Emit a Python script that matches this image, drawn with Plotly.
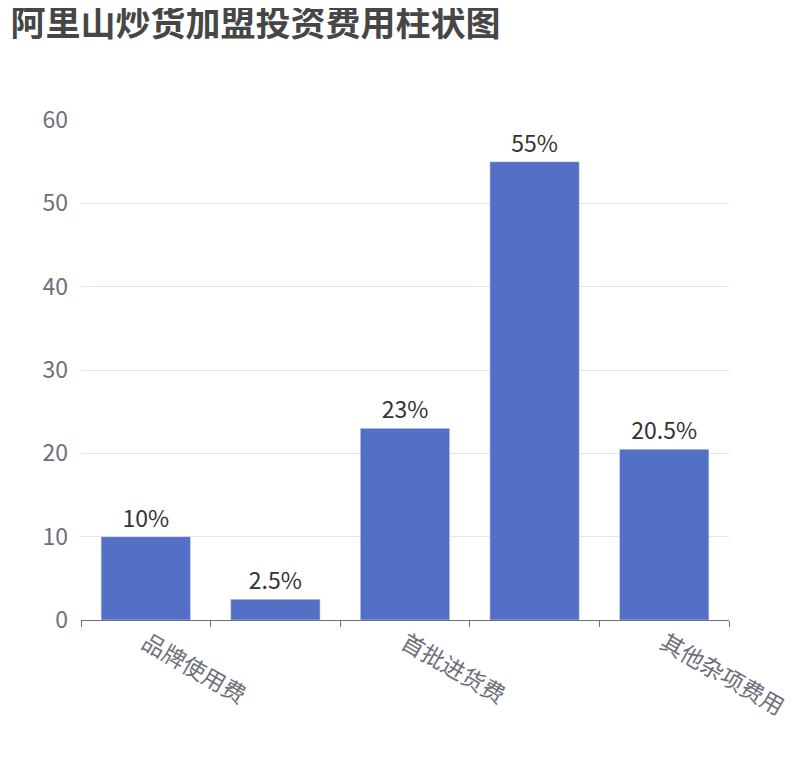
import plotly.graph_objects as go

categories = ["品牌使用费", "店面装修费", "首批进货费", "店铺租金", "其他杂项费用"]
values = [10, 2.5, 23, 55, 20.5]
labels = ["10%", "2.5%", "23%", "55%", "20.5%"]
shown = ["品牌使用费", "", "首批进货费", "", "其他杂项费用"]

font = "Noto Sans CJK SC"

fig = go.Figure(go.Bar(
    x=categories, y=values, text=labels, textposition="outside",
    textfont=dict(size=23, color="#333333", family=font),
    marker=dict(color="#5470c6"), cliponaxis=False,
))

fig.update_layout(
    width=810, height=760,
    margin=dict(l=73, r=89, t=112, b=148),
    paper_bgcolor="white", plot_bgcolor="white",
    bargap=0.31, showlegend=False,
    title=dict(text="<b>阿里山炒货加盟投资费用柱状图</b>", x=0.003, xanchor="left",
               y=0.995, yanchor="top",
               font=dict(size=35, color="#464646", family=font)),
    xaxis=dict(tickmode="array", tickvals=categories, ticktext=shown,
               tickson="boundaries", ticks="outside", ticklen=6,
               tickcolor="#6e7079", showline=True, linecolor="#6e7079",
               tickfont=dict(size=23, color="#6e7079", family=font)),
    yaxis=dict(range=[0, 60], dtick=10, gridcolor="#e0e6f1", zeroline=False,
               ticklabelstandoff=12,
               tickfont=dict(size=23, color="#6e7079", family=font)),
)

fig.write_html("out.html")
